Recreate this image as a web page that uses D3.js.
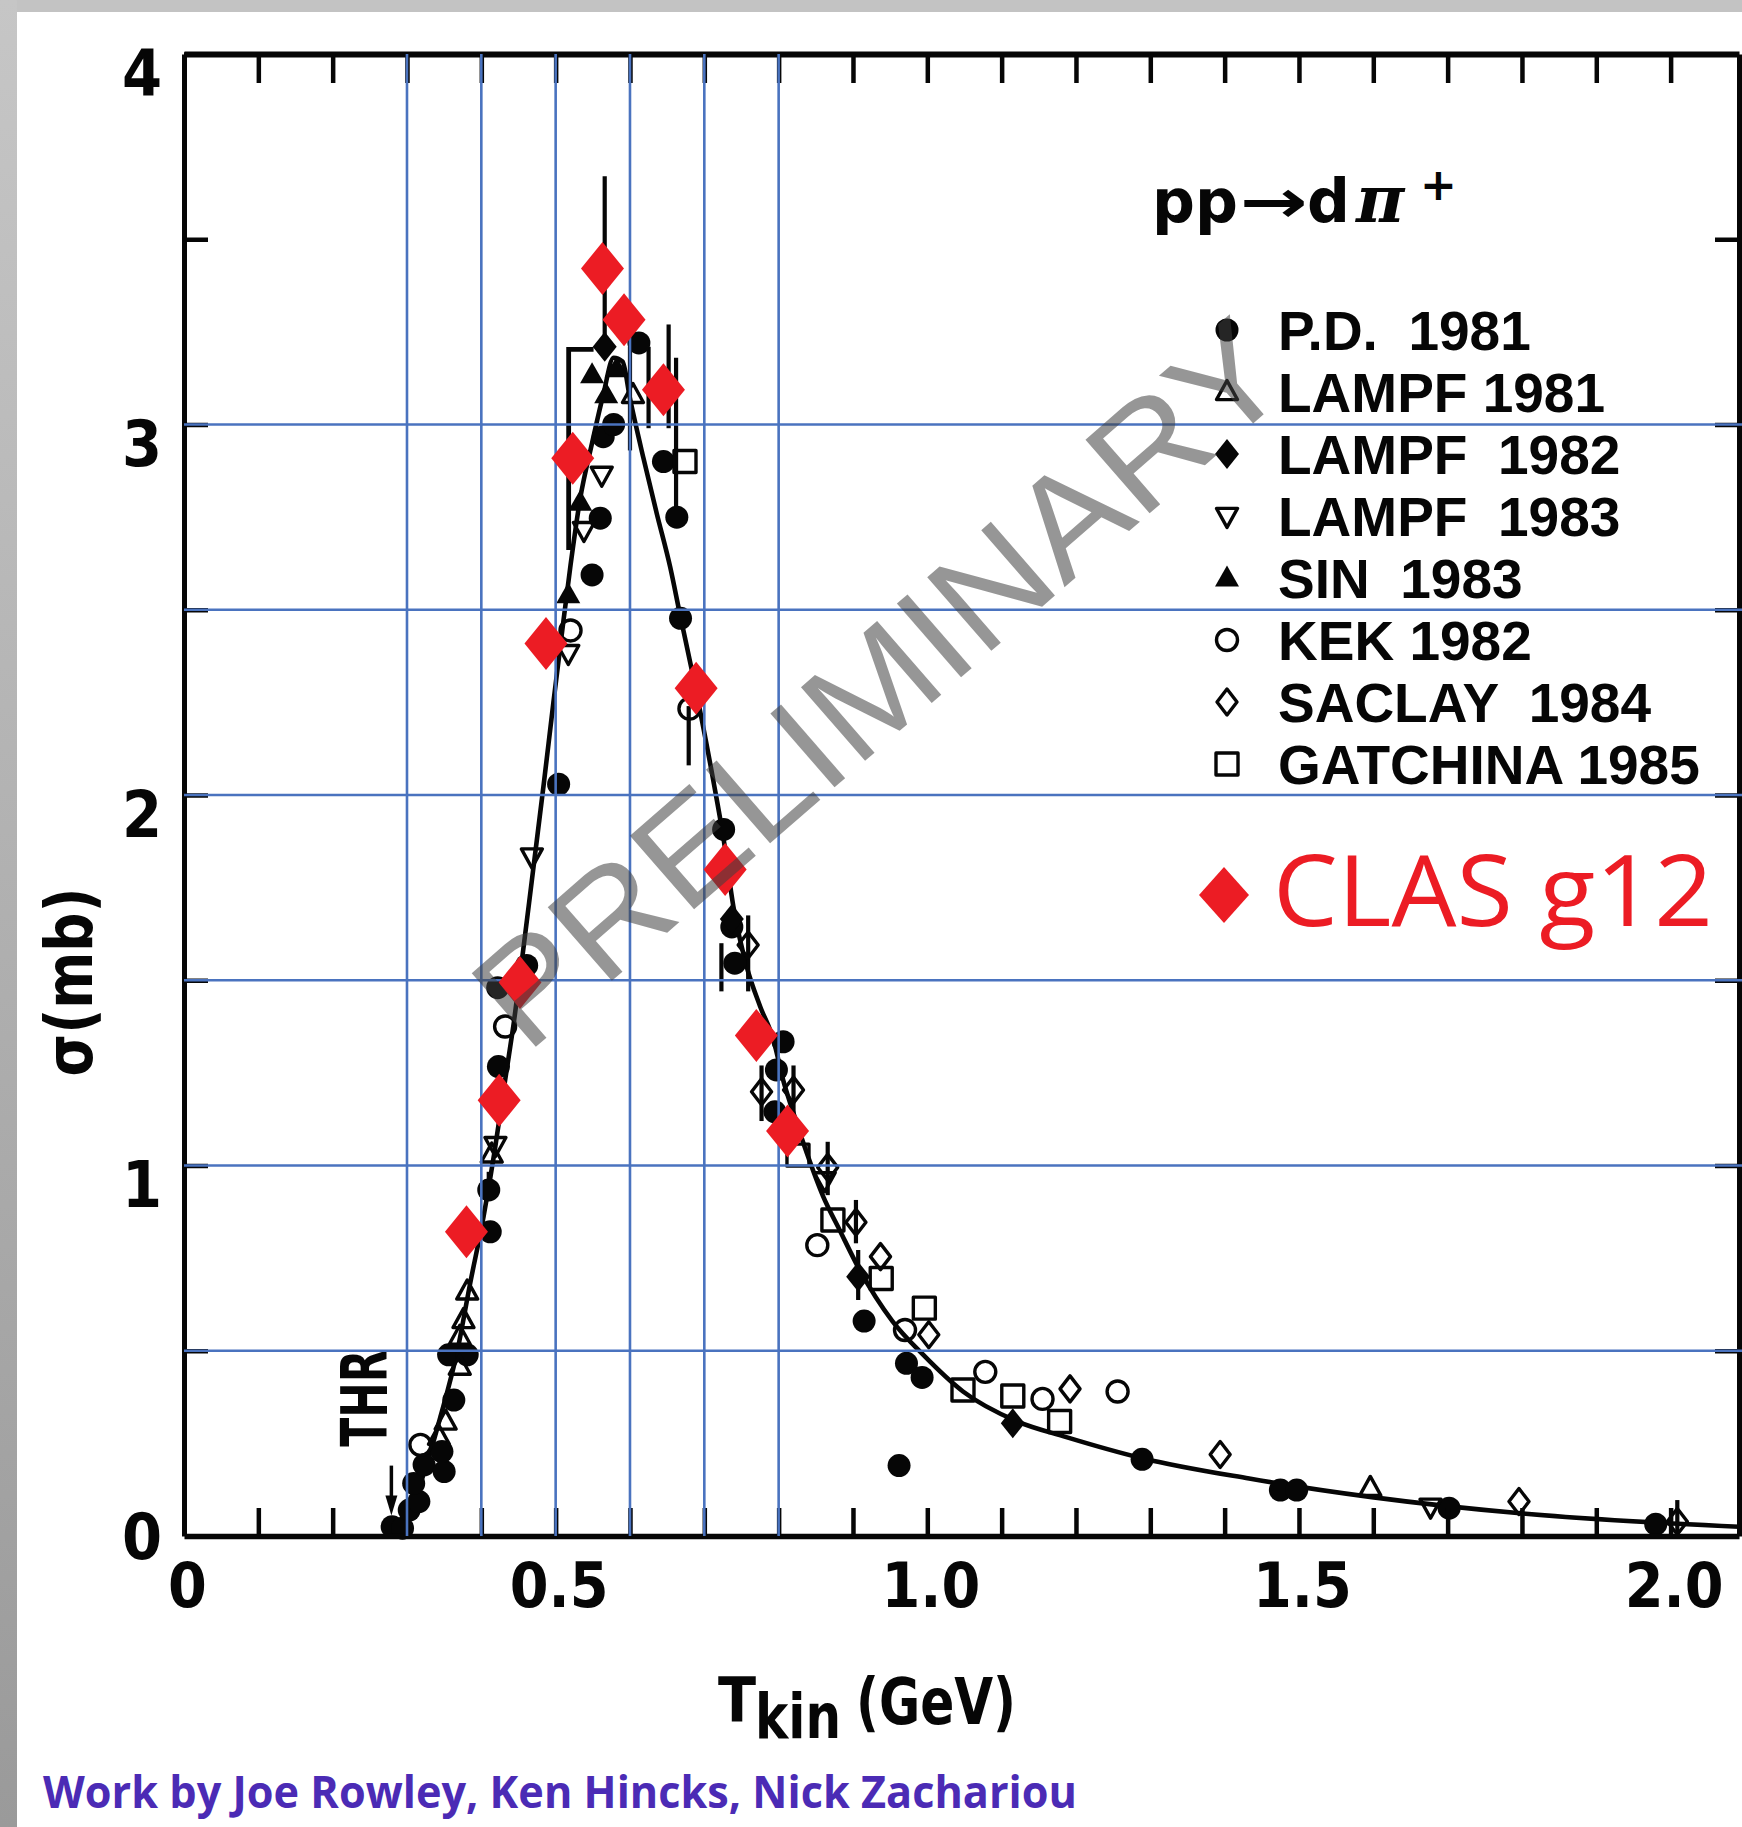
<!DOCTYPE html>
<html>
<head>
<meta charset="utf-8">
<script src="https://cdn.jsdelivr.net/npm/d3@7/dist/d3.min.js"></script>
<style>
  html, body { margin:0; padding:0; background:#ffffff; }
  svg { display:block; }
  text { white-space: pre; }
</style>
</head>
<body>
<svg id="chart" width="1742" height="1827" xmlns="http://www.w3.org/2000/svg"></svg>
<script>
// ================= DATA =================
const xTickValues = [0, 0.5, 1.0, 1.5, 2.0];
const xTickLabels = ["0", "0.5", "1.0", "1.5", "2.0"];
const xMinorTicks = [0.1,0.2,0.3,0.4,0.5,0.6,0.7,0.8,0.9,1.0,1.1,1.2,1.3,1.4,1.5,1.6,1.7,1.8,1.9,2.0];
const yTickValues = [0, 1, 2, 3, 4];
const yTickLabels = ["0", "1", "2", "3", "4"];
const yHalfTicks = [0.5,1,1.5,2,2.5,3,3.5,4];
const gridX = [0.3, 0.4, 0.5, 0.6, 0.7, 0.8];
const gridY = [0.5, 1, 1.5, 2, 2.5, 3];

// fitted curve (T_kin GeV, sigma mb)
const fitT     = [0.280,0.300,0.318,0.345,0.368,0.385,0.403,0.418,0.432,0.444,0.455,0.468,0.484,0.497,0.508,0.520,0.533,0.549,0.564,0.578,0.590,0.600,0.618,0.636,0.654,0.667,0.685,0.712,0.726,0.739,0.757,0.775,0.793,0.806,0.820,0.838,0.860,0.882,0.909,0.953,0.994,1.048,1.120,1.187,1.289,1.433,1.598,1.805,2.092];
const fitSigma = [0.000,0.060,0.142,0.322,0.502,0.682,0.862,1.040,1.230,1.390,1.560,1.770,2.030,2.250,2.430,2.620,2.800,2.950,3.080,3.180,3.170,3.070,2.910,2.760,2.616,2.490,2.320,2.040,1.880,1.700,1.537,1.430,1.339,1.231,1.141,1.033,0.916,0.826,0.718,0.580,0.490,0.390,0.310,0.267,0.210,0.155,0.105,0.060,0.025];

const pd1981 = [[0.280,0.025],[0.294,0.021],[0.303,0.070],[0.316,0.093],[0.309,0.142],[0.323,0.192],[0.350,0.174],[0.347,0.228],[0.363,0.367],[0.356,0.489],[0.381,0.489],[0.412,0.821],[0.410,0.934],[0.423,1.267],[0.422,1.480],[0.461,1.540],[0.504,2.029],[0.549,2.594],[0.560,2.747],[0.564,2.967],[0.578,3.000],[0.612,3.220],[0.645,2.900],[0.663,2.750],[0.668,2.477],[0.726,1.907],[0.737,1.644],[0.741,1.546],[0.806,1.334],[0.797,1.258],[0.795,1.145],[0.915,0.580],[0.972,0.466],[0.993,0.428],[0.962,0.190],[1.289,0.207],[1.475,0.124],[1.497,0.124],[1.702,0.075],[1.980,0.032]];
const lampf1981 = [[0.343,0.268],[0.352,0.309],[0.371,0.457],[0.371,0.538],[0.376,0.583],[0.381,0.660],[0.414,1.030],[0.604,3.080],[1.596,0.130]];
const lampf1982 = [[0.566,3.210],[0.737,1.665],[0.907,0.700],[1.115,0.304]];
const lampf1983 = [[0.419,1.055],[0.468,1.834],[0.517,2.383],[0.538,2.715],[0.562,2.864],[0.862,0.960],[1.677,0.079]];
const sin1983 = [[0.517,2.540],[0.533,2.790],[0.549,3.134],[0.568,3.080],[0.582,3.150]];
const kek1982 = [[0.318,0.246],[0.432,1.375],[0.520,2.444],[0.680,2.233],[0.852,0.785],[0.970,0.556],[1.078,0.443],[1.155,0.370],[1.256,0.390]];
const saclay1984 = [[0.759,1.595],[0.777,1.199],[0.820,1.204],[0.866,0.995],[0.904,0.847],[0.937,0.754],[1.002,0.543],[1.192,0.397],[1.394,0.220],[1.796,0.093],[2.009,0.039]];
const gatchina1985 = [[0.674,2.900],[0.826,1.028],[0.873,0.853],[0.938,0.695],[0.996,0.615],[1.048,0.394],[1.115,0.378],[1.178,0.309]];
const clasG12 = [[0.380,0.821],[0.424,1.176],[0.452,1.494],[0.487,2.409],[0.523,2.909],[0.563,3.421],[0.592,3.283],[0.645,3.094],[0.689,2.288],[0.728,1.799],[0.770,1.351],[0.812,1.093]];

// error bars: [T, sigma low, sigma high]
const errorBars = [[0.566,3.20,3.67],[0.600,2.93,3.21],[0.625,2.99,3.21],[0.652,2.99,3.27],[0.662,2.74,3.18],[0.679,2.08,2.24],[0.723,1.47,1.60],[0.759,1.47,1.675],[0.777,1.12,1.27],[0.820,1.14,1.27],[0.866,0.92,1.064],[0.904,0.79,0.907],[0.907,0.637,0.772],[0.410,0.934,0.983],[2.009,0.01,0.097]];
// bracket drawn around the peak cluster
const peakBracket = [[0.551,3.203],[0.5175,3.203],[0.5175,2.661]];
// threshold marker
const thresholdT = 0.279;
const thresholdArrow = [0.19, 0.055];

const legendLabels = ["P.D.  1981","LAMPF 1981","LAMPF  1982","LAMPF  1983","SIN  1983","KEK 1982","SACLAY  1984","GATCHINA 1985"];
const clasLabel = "CLAS g12";
const creditText = "Work by Joe Rowley, Ken Hincks, Nick Zachariou";
const watermarkText = "PRELIMINARY";

// ================= STYLE / LAYOUT =================
const INK = "#060606";
const BLUE = "#4a73bf";
const RED = "#ec1c24";
const FONT_NARROW = "'Liberation Sans Narrow','DejaVu Sans Condensed','Liberation Sans',sans-serif";
const FONT_SANS = "'Liberation Sans','DejaVu Sans',sans-serif";
const FONT_HAND = "'Open Sans','Noto Sans',sans-serif";

const svg = d3.select("#chart");
const x = d3.scaleLinear().domain([0, 2.092]).range([184, 1739]);
const y = d3.scaleLinear().domain([0, 4]).range([1536, 54]);

// background + scan border
svg.append("rect").attr("width",1742).attr("height",1827).attr("fill","#fff");
const defs = svg.append("defs");
const lg = defs.append("linearGradient").attr("id","leftGray").attr("x1",0).attr("y1",0).attr("x2",0).attr("y2",1);
lg.append("stop").attr("offset","0%").attr("stop-color","#c6c6c6");
lg.append("stop").attr("offset","100%").attr("stop-color","#9a9a9a");
svg.append("rect").attr("x",0).attr("y",0).attr("width",1742).attr("height",12).attr("fill","#c3c3c3");
svg.append("rect").attr("x",0).attr("y",0).attr("width",17).attr("height",1827).attr("fill","url(#leftGray)");

// shapes
function shapePath(type) {
  const circ = r => `M${-r},0a${r},${r} 0 1,0 ${2*r},0a${r},${r} 0 1,0 ${-2*r},0Z`;
  const tri = (w,h,up) => up ? `M0,${-h*0.6}L${w/2},${h*0.4}L${-w/2},${h*0.4}Z` : `M0,${h*0.6}L${w/2},${-h*0.4}L${-w/2},${-h*0.4}Z`;
  const dia = (hw,hh) => `M0,${-hh}L${hw},0L0,${hh}L${-hw},0Z`;
  const sq = a => `M${-a},${-a}H${a}V${a}H${-a}Z`;
  switch (type) {
    case "circleFilled": return circ(11.5);
    case "circleOpen": return circ(10.5);
    case "triUpOpen": return tri(21,19,true);
    case "triUpFilled": return tri(24,21,true);
    case "triDownOpen": return tri(21,19,false);
    case "diamondFilled": return dia(12,15);
    case "diamondOpen": return dia(10,13);
    case "squareOpen": return sq(11);
    case "clas": return dia(21.5,26.5);
    case "clasLegend": return dia(25,28);
  }
}
const filledTypes = new Set(["circleFilled","triUpFilled","diamondFilled"]);
function styleSym(sel, type) {
  if (filledTypes.has(type)) sel.attr("fill", INK).attr("stroke", "none");
  else sel.attr("fill", "none").attr("stroke", INK).attr("stroke-width", 3.4).attr("stroke-linejoin","round");
}

const seriesList = [
  {data: pd1981, type: "circleFilled"},
  {data: lampf1981, type: "triUpOpen"},
  {data: lampf1982, type: "diamondFilled"},
  {data: lampf1983, type: "triDownOpen"},
  {data: sin1983, type: "triUpFilled"},
  {data: kek1982, type: "circleOpen"},
  {data: saclay1984, type: "diamondOpen"},
  {data: gatchina1985, type: "squareOpen"}
];

// ---------- black scan layer ----------
const scan = svg.append("g");

// fit curve
const fitData = fitT.map((t,i) => [t, fitSigma[i]]);
scan.append("path").datum(fitData)
  .attr("d", d3.line().x(d => x(d[0])).y(d => y(d[1])).curve(d3.curveMonotoneX))
  .attr("fill","none").attr("stroke",INK).attr("stroke-width",4.6);

// error bars
scan.selectAll("line.err").data(errorBars).join("line").attr("class","err")
  .attr("x1", d => x(d[0])).attr("x2", d => x(d[0]))
  .attr("y1", d => y(d[1])).attr("y2", d => y(d[2]))
  .attr("stroke", INK).attr("stroke-width", 4.2);

// peak bracket
scan.append("path").datum(peakBracket)
  .attr("d", d3.line().x(d => x(d[0])).y(d => y(d[1])))
  .attr("fill","none").attr("stroke",INK).attr("stroke-width",4.8);

// data symbols
seriesList.forEach(s => {
  const sel = scan.append("g").selectAll("path").data(s.data).join("path")
    .attr("d", shapePath(s.type))
    .attr("transform", d => `translate(${x(d[0])},${y(d[1])})`);
  styleSym(sel, s.type);
});

// threshold arrow + THR label
scan.append("line")
  .attr("x1", x(thresholdT)).attr("x2", x(thresholdT))
  .attr("y1", y(thresholdArrow[0])).attr("y2", y(thresholdArrow[1]) - 12)
  .attr("stroke", INK).attr("stroke-width", 3.5);
scan.append("path")
  .attr("d", `M${x(thresholdT)-6},${y(thresholdArrow[1])-20}L${x(thresholdT)+6},${y(thresholdArrow[1])-20}L${x(thresholdT)},${y(thresholdArrow[1])}Z`)
  .attr("fill", INK);
scan.append("text")
  .attr("transform", `translate(${x(thresholdT)-26},${y(0.372)}) rotate(-90)`)
  .attr("text-anchor","middle").attr("dominant-baseline","central")
  .attr("font-family", FONT_NARROW).attr("font-weight","bold").attr("font-size",64)
  .attr("textLength",97).attr("lengthAdjust","spacingAndGlyphs")
  .attr("fill", INK).text("THR");

// ---------- axes (frame + ticks) ----------
function styleAxis(g, w) {
  g.select(".domain").attr("stroke", INK).attr("stroke-width", w);
  g.selectAll(".tick line").attr("stroke", INK).attr("stroke-width", 4.5);
}
const axB = svg.append("g").attr("transform", `translate(0,${y(0)})`)
  .call(d3.axisBottom(x).tickValues(xMinorTicks).tickSizeInner(-28).tickSizeOuter(0).tickFormat(""));
styleAxis(axB, 5.5);
const axT = svg.append("g").attr("transform", `translate(0,${y(4)})`)
  .call(d3.axisTop(x).tickValues(xMinorTicks).tickSizeInner(-29).tickSizeOuter(0).tickFormat(""));
styleAxis(axT, 6);
const axL = svg.append("g").attr("transform", `translate(${x(0)},0)`)
  .call(d3.axisLeft(y).tickValues(yHalfTicks).tickSizeInner(-24).tickSizeOuter(0).tickFormat(""));
styleAxis(axL, 5);
const axR = svg.append("g").attr("transform", `translate(${x(2.092)},0)`)
  .call(d3.axisRight(y).tickValues(yHalfTicks.filter(v => v < 4)).tickSizeInner(-24).tickSizeOuter(0).tickFormat(""));
styleAxis(axR, 5);

// ---------- blue grid overlay ----------
const grid = svg.append("g");
grid.selectAll("line.gx").data(gridX).join("line").attr("class","gx")
  .attr("x1", d => x(d)).attr("x2", d => x(d)).attr("y1", y(4)).attr("y2", y(0))
  .attr("stroke", BLUE).attr("stroke-width", 2.6);
grid.selectAll("line.gy").data(gridY).join("line").attr("class","gy")
  .attr("x1", x(0)).attr("x2", 1742).attr("y1", d => y(d)).attr("y2", d => y(d))
  .attr("stroke", BLUE).attr("stroke-width", 2.6);

// ---------- tick labels ----------
const xl = svg.append("g").attr("transform", `translate(0,${y(0)})`)
  .call(d3.axisBottom(x).tickValues(xTickValues).tickFormat((d,i) => xTickLabels[i]).tickSize(0));
xl.select(".domain").remove();
xl.selectAll("text").attr("y", 71).attr("dy", null).attr("dx", 3)
  .attr("font-family", FONT_NARROW).attr("font-weight","bold").attr("font-size", 62).attr("fill", INK);

const yl = svg.append("g").attr("transform", `translate(${x(0)},0)`)
  .call(d3.axisLeft(y).tickValues(yTickValues).tickFormat((d,i) => yTickLabels[i]).tickSize(0));
yl.select(".domain").remove();
yl.selectAll("text").attr("x", -22).attr("dy", null)
  .attr("y", d => d === 0 ? 0 : 19).attr("dominant-baseline","central")
  .attr("font-family", FONT_NARROW).attr("font-weight","bold").attr("font-size", 64).attr("fill", INK);

// axis titles
svg.append("text")
  .attr("transform", "translate(69,982) rotate(-90)")
  .attr("text-anchor","middle").attr("dominant-baseline","central")
  .attr("font-family", FONT_NARROW).attr("font-weight","bold").attr("font-size", 66)
  .attr("textLength", 189).attr("lengthAdjust","spacingAndGlyphs")
  .attr("fill", INK).text("σ(mb)");

const xt = svg.append("g").attr("font-family", FONT_NARROW).attr("font-weight","bold").attr("fill", INK);
xt.append("text").attr("x", 718).attr("y", 1722).attr("font-size", 62).text("T");
xt.append("text").attr("x", 755).attr("y", 1738).attr("font-size", 62)
  .attr("textLength", 86).attr("lengthAdjust","spacingAndGlyphs").text("kin");
xt.append("text").attr("x", 856).attr("y", 1724).attr("font-size", 64)
  .attr("textLength", 160).attr("lengthAdjust","spacingAndGlyphs").text("(GeV)");

// reaction title pp -> d pi+
const rt = svg.append("g").attr("fill", INK);
rt.append("text").attr("x",1152).attr("y",222).attr("font-family","'DejaVu Sans',sans-serif")
  .attr("font-weight","bold").attr("font-size",60).text("pp");
rt.append("text").attr("x",1240).attr("y",222).attr("font-family","'DejaVu Sans',sans-serif")
  .attr("font-weight","bold").attr("font-size",60).attr("textLength",68).attr("lengthAdjust","spacingAndGlyphs").text("→");
rt.append("text").attr("x",1307).attr("y",222).attr("font-family","'DejaVu Sans',sans-serif")
  .attr("font-weight","bold").attr("font-size",60).text("d");
rt.append("text").attr("x",1356).attr("y",222).attr("font-family","'DejaVu Serif',serif")
  .attr("font-weight","bold").attr("font-style","italic").attr("font-size",66).text("π");
rt.append("text").attr("x",1420).attr("y",200).attr("font-family","'DejaVu Sans',sans-serif")
  .attr("font-weight","bold").attr("font-size",44).text("+");

// legend
const legendTypes = seriesList.map(s => s.type);
const leg = svg.append("g");
legendLabels.forEach((lab, i) => {
  const ry = 330 + i * 62;
  const p = leg.append("path").attr("d", shapePath(legendTypes[i]))
    .attr("transform", `translate(1227,${ry})`);
  styleSym(p, legendTypes[i]);
  leg.append("text").attr("x", 1278).attr("y", ry + 20)
    .attr("font-family", FONT_SANS).attr("font-weight","bold").attr("font-size", 55)
    .attr("fill", INK).text(lab);
});

// CLAS legend entry
svg.append("path").attr("d", shapePath("clasLegend")).attr("transform","translate(1224,895)").attr("fill", RED);
svg.append("text").attr("x", 1273).attr("y", 926)
  .attr("font-family", FONT_HAND).attr("font-size", 98)
  .attr("textLength", 440).attr("lengthAdjust","spacingAndGlyphs")
  .attr("fill", RED).text(clasLabel);

// CLAS g12 data points
svg.append("g").selectAll("path").data(clasG12).join("path")
  .attr("d", shapePath("clas"))
  .attr("transform", d => `translate(${x(d[0])},${y(d[1])})`)
  .attr("fill", RED);

// watermark
svg.append("text")
  .attr("transform", "translate(879,683) rotate(-41)")
  .attr("text-anchor","middle").attr("dominant-baseline","central")
  .attr("font-family", FONT_SANS).attr("font-size", 142)
  .attr("textLength", 1020).attr("lengthAdjust","spacingAndGlyphs")
  .attr("fill", "#404040").attr("fill-opacity", 0.55)
  .text(watermarkText);

// credits
svg.append("text").attr("x", 43).attr("y", 1808)
  .attr("font-family", FONT_HAND).attr("font-weight","bold").attr("font-size", 44)
  .attr("textLength", 1034).attr("lengthAdjust","spacingAndGlyphs")
  .attr("fill", "#4b2bb5").text(creditText);
</script>
</body>
</html>
